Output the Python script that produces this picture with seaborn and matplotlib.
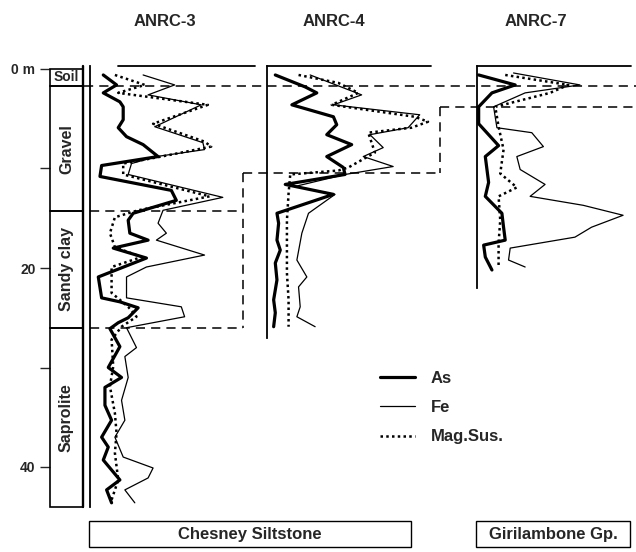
import matplotlib
matplotlib.use("Agg")
import matplotlib.pyplot as plt
import seaborn as sns
from matplotlib.patches import Rectangle

sns.set_style("white")
plt.rcParams["font.family"] = ["Liberation Sans", "DejaVu Sans"]
plt.rcParams["font.weight"] = "bold"

# ---------------- data (relative signal, 0-100 per hole) ----------------
wells = ["ANRC-3", "ANRC-4", "ANRC-7"]
well_total_depth = [44.0, 27.0, 22.0]

anrc3_as_depth = [0.6, 1.6, 2.4, 3.3, 3.8, 5.1, 5.9, 6.8, 7.6, 8.8, 9.7, 10.8, 12.2, 13.2,
                  14.5, 15.2, 16.5, 17.2, 18.0, 19.0, 20.9, 23.0, 23.4, 24.0, 25.0, 25.5,
                  26.1, 27.9, 30.0, 31.0, 32.0, 33.8, 35.3, 37.0, 38.0, 39.3, 41.3, 42.3, 43.6]
anrc3_as = [8, 16, 8, 18, 20, 20, 17, 22, 32, 41, 7, 6, 49, 52, 26, 23, 24, 35, 14, 34, 5, 7,
            18, 29, 23, 17, 12, 18, 11, 19, 9, 9, 13, 7, 11, 8, 18, 10, 13]
anrc3_fe_depth = [0.6, 1.6, 2.6, 3.6, 5.8, 7.4, 8.1, 8.8, 9.5, 10.6, 12.9, 14.2, 15.5, 16.5,
                  17.2, 18.7, 19.9, 20.9, 23.0, 23.9, 24.9, 26.0, 28.0, 28.9, 31.0, 33.3,
                  35.3, 37.0, 39.0, 40.1, 41.1, 42.3, 43.6]
anrc3_fe = [32, 51, 35, 67, 39, 68, 69, 40, 25, 23, 80, 44, 41, 46, 40, 69, 34, 22, 22, 55,
            57, 22, 28, 21, 23, 19, 21, 15, 20, 38, 35, 21, 27]
anrc3_ms_depth = [0.6, 1.6, 2.4, 3.6, 5.5, 7.3, 7.8, 8.8, 9.5, 10.6, 12.8, 14.2, 14.9, 16.5,
                  17.9, 18.9, 19.9, 22.5, 23.9, 24.9, 25.9, 27.2, 29.9, 31.9, 34.6, 36.6,
                  38.6, 41.3, 43.3]
anrc3_ms = [15, 33, 17, 71, 38, 69, 73, 43, 20, 20, 72, 29, 15, 12, 15, 31, 13, 13, 23, 28,
            19, 13, 14, 12, 15, 16, 15, 17, 13]

anrc4_as_depth = [0.6, 1.8, 2.4, 3.6, 4.8, 5.6, 6.6, 7.6, 8.8, 9.9, 10.6, 11.6, 12.6, 14.5,
                  15.5, 17.2, 18.2, 19.5, 21.2, 23.2, 24.5, 25.9]
anrc4_as = [5, 23, 30, 15, 40, 42, 36, 51, 36, 46, 47, 11, 40, 6, 7, 6, 8, 5, 6, 4, 5, 4]
anrc4_fe_depth = [0.6, 2.6, 3.6, 4.6, 5.9, 6.6, 7.9, 8.8, 9.8, 10.6, 11.8, 12.6, 14.5, 16.5,
                  19.2, 20.9, 21.9, 23.9, 24.9, 25.9]
anrc4_fe = [26, 57, 40, 92, 85, 62, 70, 58, 76, 47, 17, 41, 25, 21, 18, 24, 19, 20, 18, 29]
anrc4_ms_depth = [0.6, 1.4, 2.4, 3.6, 4.8, 5.3, 5.9, 6.4, 8.4, 9.9, 10.2, 10.6, 12.5, 15.2,
                  17.9, 20.5, 23.2, 25.9]
anrc4_ms = [19, 43, 55, 39, 89, 97, 87, 61, 65, 49, 43, 14, 13, 12, 12, 12, 13, 13]

anrc7_as_depth = [0.6, 1.6, 2.4, 3.8, 5.5, 7.7, 8.8, 11.4, 12.8, 14.5, 15.9, 17.2, 17.7, 18.9, 20.2]
anrc7_as = [1, 23, 9, 1, 1, 13, 5, 7, 5, 15, 16, 17, 4, 5, 9]
anrc7_fe_depth = [0.4, 1.6, 2.4, 3.8, 5.9, 6.4, 7.8, 8.8, 10.1, 11.6, 12.8, 13.7, 14.7, 15.9,
                  16.9, 18.0, 19.2, 19.9]
anrc7_fe = [22, 62, 29, 10, 12, 33, 40, 24, 26, 41, 32, 64, 88, 69, 59, 20, 19, 29]
anrc7_ms_depth = [0.6, 1.6, 2.4, 3.8, 5.8, 8.1, 10.5, 11.9, 12.8, 15.2, 17.5, 19.9]
anrc7_ms = [17, 55, 44, 11, 13, 16, 14, 24, 13, 14, 13, 13]

# lithology log of ANRC-3
litho_names = ["Soil", "Gravel", "Sandy clay", "Saprolite"]
litho_top = [0.0, 1.7, 14.3, 26.0]
litho_base = [1.7, 14.3, 26.0, 44.0]

# correlated boundaries between holes (m)
soil_base = 1.7
anrc3_gravel_base = 14.3
saprolite_top = [26.0, 10.5, 3.8]

depth_ticks = [0, 10, 20, 30, 40]
depth_tick_labels = ["0 m", "", "20", "", "40"]
bedrock_units = ["Chesney Siltstone", "Girilambone Gp."]

# ---------------- layout ----------------
W, H = 636, 552
fig = plt.figure(figsize=(W / 100, H / 100), dpi=100)

Y0 = 69.0          # pixel row of 0 m
PPM = 9.95         # pixels per metre
D_TOP, D_BOT = -0.3, 44.0


def add_axes_px(x0, x1):
    y0 = Y0 + D_TOP * PPM
    y1 = Y0 + D_BOT * PPM
    ax = fig.add_axes([x0 / W, 1 - y1 / H, (x1 - x0) / W, (y1 - y0) / H])
    ax.set_ylim(D_BOT, D_TOP)
    ax.set_facecolor("none")
    return ax


# lithology column with the depth scale
axl = add_axes_px(50, 83)
axl.set_xlim(0, 1)
for s in axl.spines.values():
    s.set_visible(False)
axl.set_xticks([])
axl.set_yticks(depth_ticks)
axl.set_yticklabels(depth_tick_labels, fontsize=10, fontweight="bold")
axl.tick_params(axis="y", length=7.5, width=1.0, pad=3, direction="out", left=True)
for name, top, base in zip(litho_names, litho_top, litho_base):
    axl.add_patch(Rectangle((0, top), 1, base - top, fill=False, ec="black", lw=1.2,
                            clip_on=False))
    mid = (top + base) / 2
    if name == "Soil":
        axl.text(0.5, mid, name, ha="center", va="center", fontsize=10, fontweight="bold")
    else:
        axl.text(0.5, mid, name, ha="center", va="center", rotation=90,
                 fontsize=11.5, fontweight="bold")
# heavier right-hand edge of the log column
axl.axvline(1, ymin=0, ymax=1, color="black", lw=1.7, clip_on=False)

# the three drill-hole panels
panel_px = [(90, 256), (267, 433), (477, 643)]
top_line_span = [(0.17, 0.995), (0.0, 0.99), (0.0, 0.925)]
series = [
    (anrc3_as_depth, anrc3_as, anrc3_fe_depth, anrc3_fe, anrc3_ms_depth, anrc3_ms),
    (anrc4_as_depth, anrc4_as, anrc4_fe_depth, anrc4_fe, anrc4_ms_depth, anrc4_ms),
    (anrc7_as_depth, anrc7_as, anrc7_fe_depth, anrc7_fe, anrc7_ms_depth, anrc7_ms),
]
title_x = [165, 334, 536]

panel_axes = []
for (x0, x1), span, data, total, well, tx in zip(panel_px, top_line_span, series,
                                                  well_total_depth, wells, title_x):
    ax = add_axes_px(x0, x1)
    ax.set_xlim(0, 100)
    d_as, v_as, d_fe, v_fe, d_ms, v_ms = data
    sns.lineplot(x=v_fe, y=d_fe, orient="y", ax=ax, color="black", lw=0.9, label="Fe")
    sns.lineplot(x=v_ms, y=d_ms, orient="y", ax=ax, color="black", lw=1.8,
                 linestyle=(0, (1.0, 1.3)), label="Mag.Sus.")
    sns.lineplot(x=v_as, y=d_as, orient="y", ax=ax, color="black", lw=2.3, label="As")
    if ax.get_legend() is not None:
        ax.get_legend().remove()
    ax.set_ylim(D_BOT, D_TOP)
    ax.set_xlabel("")
    ax.set_ylabel("")
    ax.set_xticks([])
    ax.set_yticks([])
    for k in ["top", "right", "bottom"]:
        ax.spines[k].set_visible(False)
    ax.spines["left"].set_bounds(D_TOP, total)
    ax.spines["left"].set_linewidth(1.3)
    ax.spines["left"].set_color("black")
    ax.axhline(D_TOP, xmin=span[0], xmax=span[1], color="black", lw=1.3, clip_on=False)
    fig.text(tx / W, 1 - 21 / H, well, ha="center", va="center", fontsize=12,
             fontweight="bold")
    panel_axes.append(ax)

# dashed correlation lines between holes
axo = add_axes_px(0, W)
axo.set_xlim(0, W)
axo.axis("off")
dash = dict(color="black", lw=1.1, linestyle=(0, (6, 4)))
axo.plot([84, 636], [soil_base, soil_base], **dash)
axo.plot([90, 243], [anrc3_gravel_base, anrc3_gravel_base], **dash)
axo.plot([90, 243], [saprolite_top[0], saprolite_top[0]], **dash)
axo.plot([243, 243], [saprolite_top[1], saprolite_top[0]], **dash)
axo.plot([243, 440], [saprolite_top[1], saprolite_top[1]], **dash)
axo.plot([440, 440], [saprolite_top[2], saprolite_top[1]], **dash)
axo.plot([440, 636], [saprolite_top[2], saprolite_top[2]], **dash)

# legend
handles, labels = panel_axes[0].get_legend_handles_labels()
order = [labels.index(n) for n in ["As", "Fe", "Mag.Sus."]]
fig.legend([handles[i] for i in order], [labels[i] for i in order],
           loc="upper left", bbox_to_anchor=(365 / W, 1 - 356 / H), frameon=False,
           handlelength=2.1, handletextpad=0.95, labelspacing=0.85,
           prop={"weight": "bold", "size": 12})

# bedrock unit boxes
for name, (bx0, bx1) in zip(bedrock_units, [(89, 411), (476, 630)]):
    by0, by1 = 521, 547
    fig.add_artist(Rectangle((bx0 / W, 1 - by1 / H), (bx1 - bx0) / W, (by1 - by0) / H,
                             transform=fig.transFigure, fill=False, ec="black", lw=1.0))
    fig.text((bx0 + bx1) / 2 / W, 1 - (by0 + by1) / 2 / H, name, ha="center",
             va="center", fontsize=12, fontweight="bold")

fig.savefig("out.png", dpi=100, facecolor="white")
